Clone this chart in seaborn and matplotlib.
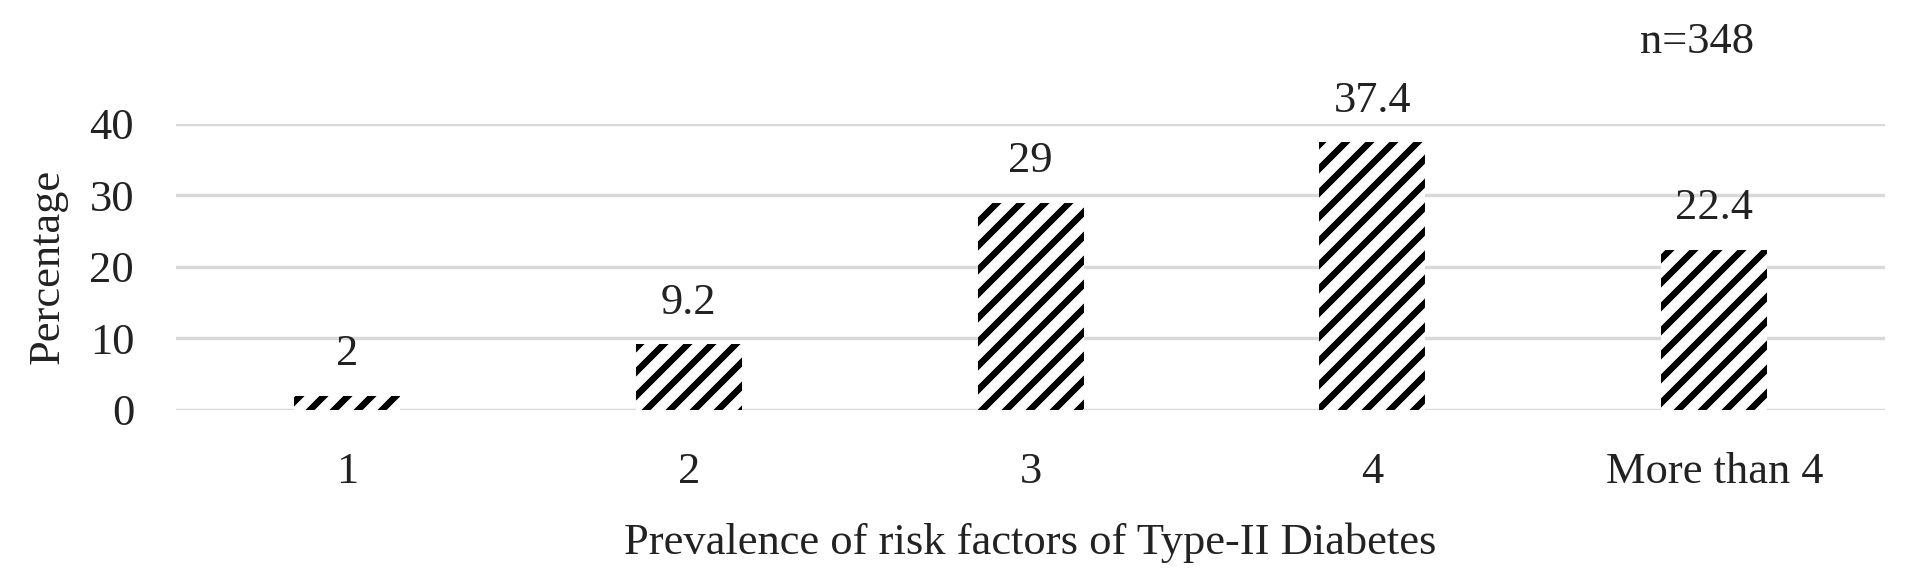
import matplotlib
matplotlib.use("Agg")
import matplotlib.pyplot as plt
import seaborn as sns
import pandas as pd

categories = ["1", "2", "3", "4", "More than 4"]
values = [2, 9.2, 29, 37.4, 22.4]
value_labels = ["2", "9.2", "29", "37.4", "22.4"]
y_ticks = [0, 10, 20, 30, 40]

DPI = 72
K = 100.0 / DPI  # scale point sizes so they match a 100-dpi layout

sns.set_theme(style="white")
plt.rcParams['font.family'] = ['Liberation Serif', 'DejaVu Serif']
plt.rcParams['hatch.linewidth'] = 6.5

FS = 32 * K
TXT = "#222222"

df = pd.DataFrame({"cat": categories, "val": values})

fig = plt.figure(figsize=(1912 / DPI, 584 / DPI), dpi=DPI)
ax = fig.add_axes([0.092, 0.298, 0.894, 0.49])

sns.barplot(data=df, x="cat", y="val", ax=ax, width=0.31, color="white",
            edgecolor="black", linewidth=0, hatch="/", saturation=1)

ax.set_ylim(0, 40)
ax.set_xlim(-0.5, 4.5)
ax.set_yticks(y_ticks)
for s in ax.spines.values():
    s.set_visible(False)
ax.yaxis.grid(True, color="#d9d9d9", linewidth=2.5 * K)
ax.set_axisbelow(True)
ax.tick_params(axis="both", length=0, labelsize=FS, colors=TXT)
ax.tick_params(axis="y", pad=30 * K)
ax.tick_params(axis="x", pad=30 * K)

for i, (v, lab) in enumerate(zip(values, value_labels)):
    ax.annotate(lab, (i, v), xytext=(0, 22 * K), textcoords="offset points",
                ha="center", va="baseline", fontsize=FS, color=TXT,
                annotation_clip=False)

ax.text(3.95, 51.5, "n=348", ha="center", va="center", fontsize=FS,
        color=TXT, clip_on=False)

ax.set_xlabel("Prevalence of risk factors of Type-II Diabetes", fontsize=FS,
              color=TXT, labelpad=22 * K)
ax.set_ylabel("Percentage", fontsize=FS, color=TXT, labelpad=16 * K)

fig.savefig("out.png", dpi=DPI)
